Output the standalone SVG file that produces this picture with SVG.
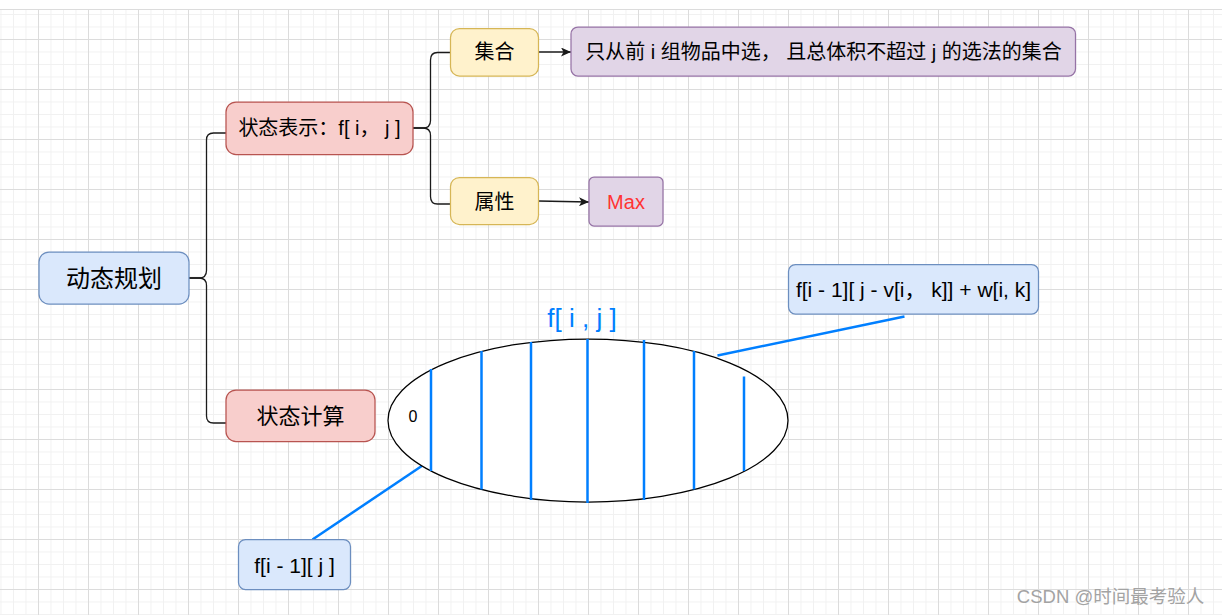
<svg xmlns="http://www.w3.org/2000/svg" width="1222" height="615" viewBox="0 0 1222 615">
<defs>
<pattern id="minor" width="12.5" height="12.5" patternUnits="userSpaceOnUse" x="38" y="39">
<path d="M0 0.5 H12.5 M0.5 0 V12.5" fill="none" stroke="#f1f1f1" stroke-width="1"/>
</pattern>
<pattern id="major" width="50" height="50" patternUnits="userSpaceOnUse" x="38" y="39">
<path d="M0 0.5 H50 M0.5 0 V50" fill="none" stroke="#dcdcdc" stroke-width="1"/>
</pattern>
<marker id="arrow" markerWidth="11" markerHeight="9" refX="10" refY="4.5" orient="auto" markerUnits="userSpaceOnUse">
<path d="M0,0 L10,4.5 L0,9 L2.5,4.5 z" fill="#1a1a1a"/>
</marker>
</defs>
<style>
.t { font-family: "Liberation Sans", "Noto Sans CJK SC", sans-serif; fill: #000; text-anchor: middle; }
.conn { fill: none; stroke: #1a1a1a; stroke-width: 1.3; }
.blue { fill: none; stroke: #007fff; stroke-width: 2.5; }
.nb { fill: #dae8fc; stroke: #6c8ebf; stroke-width: 1.25; }
.nr { fill: #f8cecc; stroke: #b85450; stroke-width: 1.25; }
.ny { fill: #fff2cc; stroke: #d6b656; stroke-width: 1.25; }
.np { fill: #e1d5e7; stroke: #9673a6; stroke-width: 1.25; }
</style>

<rect x="0" y="0" width="1222" height="615" fill="#ffffff"/>
<rect x="0" y="9" width="1222" height="606" fill="url(#minor)"/>
<rect x="0" y="9" width="1222" height="606" fill="url(#major)"/>
<line x1="0" y1="9.5" x2="1222" y2="9.5" stroke="#dcdcdc" stroke-width="1"/>

<g id="connectors">
<path class="conn" d="M189,278 H199 Q206.5,278 206.5,270.5 V140 Q206.5,133 213.5,133 H226"/>
<path class="conn" d="M189,278 H199 Q206.5,278 206.5,285.5 V416 Q206.5,423 213.5,423 H226"/>
<path class="conn" d="M413,128 H423 Q430.5,128 430.5,120.5 V60 Q430.5,52.5 437.5,52.5 H451"/>
<path class="conn" d="M413,128 H423 Q430.5,128 430.5,135.5 V196.5 Q430.5,204 437.5,204 H451"/>
<line class="conn" x1="538.5" y1="52" x2="571" y2="52" marker-end="url(#arrow)"/>
<line class="conn" x1="538.5" y1="201" x2="589" y2="202" marker-end="url(#arrow)"/>
<line class="blue" x1="717.5" y1="355.5" x2="904.5" y2="316.5"/>
<line class="blue" x1="424" y1="464.5" x2="312.5" y2="539.5"/>
</g>

<g id="node-dp">
<rect class="nb" x="39" y="252" width="150" height="52" rx="10"/>
<text class="t" x="114" y="286.5" font-size="24">动态规划</text>
</g>

<g id="node-state-repr">
<rect class="nr" x="226" y="102" width="187" height="52.5" rx="10"/>
<text class="t" x="319.5" y="135" font-size="20">状态表示：f[ i， j ]</text>
</g>

<g id="node-state-calc">
<rect class="nr" x="226" y="390" width="149" height="51.5" rx="10"/>
<text class="t" x="300.5" y="423.5" font-size="22">状态计算</text>
</g>

<g id="node-set">
<rect class="ny" x="450.5" y="28.5" width="88" height="47.5" rx="9"/>
<text class="t" x="494.5" y="59" font-size="20">集合</text>
</g>

<g id="node-set-desc">
<rect class="np" x="571" y="27" width="504.5" height="49" rx="7"/>
<text class="t" x="823.5" y="59" font-size="20">只从前 i 组物品中选， 且总体积不超过 j 的选法的集合</text>
</g>

<g id="node-attr">
<rect class="ny" x="450.5" y="177.5" width="88" height="47" rx="9"/>
<text class="t" x="494.5" y="208.5" font-size="20">属性</text>
</g>

<g id="node-max">
<rect class="np" x="589" y="177" width="74" height="49" rx="5"/>
<text class="t" x="626" y="209" font-size="20" style="fill:#ff3333">Max</text>
</g>

<g id="node-fij-label">
<text class="t" x="582" y="327" font-size="26" style="fill:#007fff">f[ i , j ]</text>
</g>

<g id="node-ellipse">
<ellipse cx="588" cy="420.5" rx="200" ry="81.5" fill="#ffffff" stroke="#000000" stroke-width="1.25"/>
<line class="blue" x1="431" y1="369" x2="431" y2="471"/>
<line class="blue" x1="481.5" y1="351" x2="481.5" y2="489.5"/>
<line class="blue" x1="531" y1="342" x2="531" y2="500"/>
<line class="blue" x1="587.5" y1="339" x2="587.5" y2="503"/>
<line class="blue" x1="644" y1="340" x2="644" y2="500"/>
<line class="blue" x1="694" y1="351" x2="694" y2="489.5"/>
<line class="blue" x1="744" y1="376.5" x2="744" y2="471"/>
<text class="t" x="413" y="421.5" font-size="16">0</text>
</g>

<g id="node-f-prev-k">
<rect class="nb" x="788.5" y="264.5" width="250" height="49.5" rx="7"/>
<text class="t" x="913.5" y="297" font-size="21">f[i - 1][ j - v[i， k]] + w[i, k]</text>
</g>

<g id="node-f-prev">
<rect class="nb" x="238.5" y="539.5" width="112" height="50" rx="7"/>
<text class="t" x="294.5" y="573" font-size="21">f[i - 1][ j ]</text>
</g>

<text class="t" x="1110.5" y="603" font-size="18.5" style="fill:#a3a3a3">CSDN @时间最考验人</text>
</svg>
